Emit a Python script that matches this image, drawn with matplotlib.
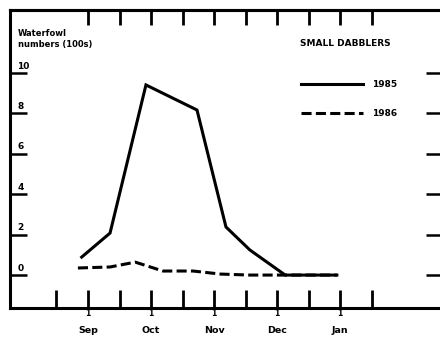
import matplotlib
matplotlib.use("Agg")
import matplotlib.pyplot as plt
import matplotlib.transforms as mtransforms

# x in months: 1 = 1 Sep, 2 = 1 Oct, ... 5 = 1 Jan
x_1985 = [0.90, 1.35, 1.92, 2.73, 3.19, 3.57, 4.13, 4.95]
y_1985 = [0.89, 2.08, 9.41, 8.17, 2.38, 1.24, 0.0, 0.0]
x_1986 = [0.84, 1.35, 1.75, 2.19, 2.67, 3.10, 3.57, 4.95]
y_1986 = [0.35, 0.40, 0.64, 0.20, 0.20, 0.05, 0.0, 0.0]
month_pos = [1, 2, 3, 4, 5]
month_labels = ["Sep", "Oct", "Nov", "Dec", "Jan"]
y_ticks = [0, 2, 4, 6, 8, 10]
series_labels = ["1985", "1986"]

fig = plt.figure(figsize=(4.4, 3.39), dpi=100)
ax = fig.add_axes([10/440, 31/339, 430/440, 298/339])
ax.set_xlim(-0.238, 6.587)
ax.set_ylim(-1.63, 13.12)

lw = 2.2
l1, = ax.plot(x_1985, y_1985, color="black", lw=lw, solid_joinstyle="miter",
              label=series_labels[0])
l2, = ax.plot(x_1986, y_1986, color="black", lw=lw, linestyle=(0, (3.3, 1.4)),
              label=series_labels[1])

for s in ["left", "bottom", "top"]:
    ax.spines[s].set_linewidth(2.2)
ax.spines["right"].set_visible(False)

# bottom ticks (inward, half-month)
half = [0.5 + 0.5 * i for i in range(11)]
ax.set_xticks(half)
ax.set_xticklabels([])
ax.tick_params(axis="x", direction="in", length=13, width=2.0, bottom=True, top=False)

# top ticks
sec = ax.secondary_xaxis("top")
sec.set_xticks(half[1:])
sec.set_xticklabels([])
sec.tick_params(direction="in", length=11, width=2.0)
sec.spines["top"].set_linewidth(2.2)

# left ticks
ax.set_yticks(y_ticks)
ax.set_yticklabels([])
ax.tick_params(axis="y", direction="in", length=12, width=1.8, left=True, right=False)
secy = ax.secondary_yaxis("right")
secy.set_yticks(y_ticks)
secy.set_yticklabels([])
secy.tick_params(direction="in", length=10, width=1.8)
secy.spines["right"].set_visible(False)

tr_y = mtransforms.blended_transform_factory(ax.transAxes, ax.transData)
for v in y_ticks:
    ax.text(0.017, v + 0.12, str(v), transform=tr_y, ha="left", va="bottom",
            fontsize=6.5, fontweight="bold")

tr_x = mtransforms.blended_transform_factory(ax.transData, ax.transAxes)
for p, m in zip(month_pos, month_labels):
    ax.text(p, -0.004, "1", transform=tr_x, ha="center", va="top",
            fontsize=5.5, fontweight="bold")
    ax.text(p, -0.062, m, transform=tr_x, ha="center", va="top",
            fontsize=6.8, fontweight="bold")

ax.text(0.018, 0.935, "Waterfowl\nnumbers (100s)", transform=ax.transAxes,
        ha="left", va="top", fontsize=6, fontweight="bold", linespacing=1.2)
ax.text(290/430, 1 - 33/298, "SMALL DABBLERS", transform=ax.transAxes,
        ha="left", va="center", fontsize=6.5, fontweight="bold")

leg = ax.legend(handles=[l1, l2], loc="upper left",
                bbox_to_anchor=(283/430, 1 - 62/298), frameon=False,
                handlelength=6.8, handletextpad=1.0, labelspacing=2.2,
                prop={"size": 6.5, "weight": "bold"})

fig.savefig("out.png", dpi=100)
